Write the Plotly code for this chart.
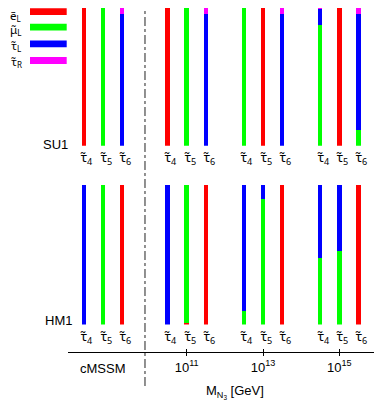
import plotly.graph_objects as go

# ---- data ----
groups = ["cMSSM", "1e11", "1e13", "1e15"]
group_pos = [8.806, 11, 13, 15]          # log10(M_N3 / GeV); cMSSM placed left of divider
states = ["τ̃<sub>4</sub>", "τ̃<sub>5</sub>", "τ̃<sub>6</sub>"]
state_offsets = [-0.5, 0.0, 0.5]

components = ["ẽ<sub>L</sub>", "μ̃<sub>L</sub>", "τ̃<sub>L</sub>", "τ̃<sub>R</sub>"]
comp_colors = ["#ff0000", "#00ff00", "#0000ff", "#ff00ff"]

# SU1 compositions (12 bars: 4 groups x 3 states)
su1_eL   = [1, 0, 0,     1, 0, 0,     0, 1, 0,     0, 1, 0]
su1_muL  = [0, 1, 0,     0, 1, 0,     1, 0, 0,     0.879, 0, 0.117]
su1_tauL = [0, 0, 0.954, 0, 0, 0.954, 0, 0, 0.954, 0.114, 0, 0.840]
su1_tauR = [0, 0, 0.046, 0, 0, 0.046, 0, 0, 0.046, 0.007, 0, 0.043]

# HM1 compositions
hm1_eL   = [0, 0, 1,     0, 0.008, 1, 0, 0, 1,     0, 0, 1]
hm1_muL  = [0, 1, 0,     0, 0.992, 0, 0.10, 0.90, 0, 0.48, 0.525, 0]
hm1_tauL = [1, 0, 0,     1, 0, 0,     0.90, 0.10, 0, 0.52, 0.475, 0]
hm1_tauR = [0, 0, 0,     0, 0, 0,     0, 0, 0,     0, 0, 0]

xtick_vals = [11, 13, 15]
xtick_text = ["10<sup>11</sup>", "10<sup>13</sup>", "10<sup>15</sup>"]
panel_names = ["SU1", "HM1"]

# ---- derived bar positions ----
bar_x = [g + o for g in group_pos for o in state_offsets]
bar_lbl = [s for g in group_pos for s in states]

# page has an 8px body margin; figure is sized to fit the window exactly
OFF = 8
W, H = 382 - OFF, 403 - OFF
FONT = "Liberation Sans, Arial, Helvetica, sans-serif"
TFONT = "Noto Sans, DejaVu Sans, sans-serif"

def py(pix):
    return min(1.0, 1 - (pix - OFF) / H)

def px(pix):
    return (pix - OFF) / W

fig = go.Figure()
panels = [
    ("y2", [su1_eL, su1_muL, su1_tauL, su1_tauR]),
    ("y", [hm1_eL, hm1_muL, hm1_tauL, hm1_tauR]),
]
for yax, comps in panels:
    for vals, col, name in zip(comps, comp_colors, components):
        fig.add_trace(go.Bar(
            x=bar_x, y=vals, width=0.118, xaxis="x", yaxis=yax,
            marker=dict(color=col, line=dict(width=0)),
            showlegend=False, name=name,
        ))

su1_dom = [py(145.7), py(5.3)]
hm1_dom = [py(324.5), py(185)]
xrange = [7.889, 16.014]
x_dom = [px(68), px(378)]
axis_pos = py(352)

fig.update_layout(
    width=W, height=H,
    margin=dict(l=0, r=0, t=0, b=0, autoexpand=False),
    paper_bgcolor="white", plot_bgcolor="white",
    barmode="stack", bargap=0,
    font=dict(family=FONT, size=13, color="black"),
    xaxis=dict(domain=x_dom, range=xrange, anchor="free", position=axis_pos,
               showline=True, linecolor="black", linewidth=1,
               tickvals=xtick_vals, ticktext=xtick_text,
               ticks="outside", ticklen=3, tickcolor="black",
               showgrid=False, zeroline=False,
               tickfont=dict(family=FONT, size=13)),
    xaxis2=dict(domain=x_dom, range=xrange, anchor="free", position=axis_pos,
                overlaying="x", showline=False, tickvals=xtick_vals,
                showticklabels=False, ticks="inside", ticklen=3,
                tickcolor="black", showgrid=False, zeroline=False),
    yaxis=dict(domain=hm1_dom, range=[0, 1], visible=False, anchor="x"),
    yaxis2=dict(domain=su1_dom, range=[0, 1], visible=False, anchor="x"),
)
# dummy trace to make xaxis2 render
fig.add_trace(go.Scatter(x=[None], y=[None], xaxis="x2", yaxis="y",
                         showlegend=False, hoverinfo="skip"))

annotations = []
# state labels under bars
for dom in (su1_dom, hm1_dom):
    for xv, lab in zip(bar_x, bar_lbl):
        annotations.append(dict(x=xv, y=dom[0], xref="x", yref="paper",
                                text=lab, showarrow=False, xanchor="center",
                                yanchor="top", xshift=3, yshift=0,
                                font=dict(family=TFONT, size=13)))
# panel names
annotations.append(dict(x=px(41), y=py(144), xref="paper", yref="paper",
                        text=panel_names[0], showarrow=False, yanchor="middle",
                        font=dict(size=13)))
annotations.append(dict(x=px(43), y=py(320), xref="paper", yref="paper",
                        text=panel_names[1], showarrow=False, yanchor="middle",
                        font=dict(size=13)))
# cMSSM label
annotations.append(dict(x=group_pos[0], y=py(368), xref="x", yref="paper",
                        text="cMSSM", showarrow=False, yanchor="middle",
                        font=dict(size=13)))
# axis title
annotations.append(dict(x=px(266), y=py(381), xref="paper", yref="paper",
                        text="M<sub>N<sub>3</sub></sub> [GeV]", showarrow=False,
                        yanchor="top", font=dict(size=13)))

shapes = []
# legend swatches and labels
leg_y = [11.7, 27.2, 43.8, 60.5]
leg_label_y = [16.0, 30.0, 45.5, 62.0]
for yc, ly, col, name in zip(leg_y, leg_label_y, comp_colors, components):
    shapes.append(dict(type="rect", xref="paper", yref="paper",
                       x0=px(30), x1=px(66.7), y0=py(yc + 3.4), y1=py(yc - 3.4),
                       fillcolor=col, line=dict(width=0)))
    annotations.append(dict(x=px(24), y=py(ly), xref="paper",
                            yref="paper", text=name, showarrow=False,
                            xanchor="right", yanchor="middle",
                            font=dict(family=TFONT, size=11.5)))
# divider line
shapes.append(dict(type="line", xref="x", yref="paper",
                   x0=9.907, x1=9.907, y0=py(386), y1=py(3),
                   line=dict(color="#222", width=1, dash="dashdot")))

fig.update_layout(annotations=annotations, shapes=shapes)
fig.write_html("out.html")
